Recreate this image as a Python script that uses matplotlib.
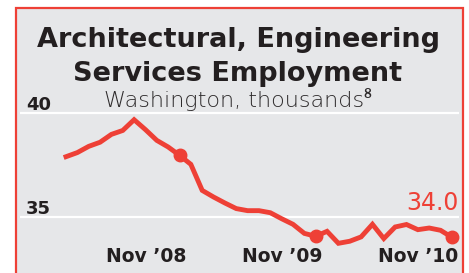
import matplotlib
matplotlib.use('Agg')
import matplotlib.pyplot as plt
from matplotlib.patches import Rectangle
import numpy as np

# monthly employment, Jan 2008 .. Nov 2010 (thousands)
months = list(range(35))
values = [37.90, 38.10, 38.40, 38.60, 38.98, 39.17, 39.69, 39.21, 38.69, 38.37,
          37.97, 37.53, 36.27, 35.95, 35.66, 35.39, 35.29, 35.29, 35.19, 34.90,
          34.63, 34.19, 34.05, 34.29, 33.71, 33.81, 34.02, 34.63, 33.94, 34.50,
          34.62, 34.37, 34.45, 34.34, 34.00]
tick_idx = [10, 22, 34]
tick_labels = ["Nov \u201908", "Nov \u201909", "Nov \u201910"]
y_ticks = [35, 40]
last_label = "34.0"

RED = '#ee4036'
BG = '#e6e7e9'
INK = '#231f20'
W, H = 469, 273

plt.rcParams['font.family'] = ['DejaVu Sans', 'Noto Sans']
fig = plt.figure(figsize=(W/100, H/100), dpi=100)
fig.patch.set_facecolor('white')

# panel background with red frame
fig.patches.append(Rectangle((16/W, -0.05), (463-16)/W, 1.05 - 8/H,
                             transform=fig.transFigure, facecolor=BG,
                             edgecolor=RED, linewidth=1.6, zorder=-5))

# x: pixel = 66 + 11.35*i ; y: 40 at px 113.3, 20.67 px per unit
ax = fig.add_axes([20/W, 0, 439/W, 173/H])
ax.set_zorder(2)
ax.set_facecolor('none')
ax.set_xlim((20-66)/11.35, (459-66)/11.35)
ax.set_ylim(40 - (273-113.3)/20.67, 40 + (113.3-100)/20.67)
for s in ax.spines.values():
    s.set_visible(False)
ax.set_xticks([])
ax.set_yticks([])

for yv in y_ticks:
    ax.axhline(yv, color='white', lw=1.6, zorder=1)
    ax.text(0.014, yv + 0.15, str(yv), transform=ax.get_yaxis_transform(),
            ha='left', va='baseline', fontsize=13, fontweight='bold', color=INK)

ax.plot(months, values, color=RED, lw=3.5, solid_joinstyle='miter', zorder=3)
ax.plot([months[i] for i in tick_idx], [values[i] for i in tick_idx], 'o',
        color=RED, ms=9, zorder=4)

for i, lab in zip(tick_idx, tick_labels):
    ax.text(months[i] + 0.6, 32.81, lab, ha='right', va='baseline',
            fontsize=13.5, fontweight='bold', color=INK)

ax.text(months[-1] + 0.55, 35.32, last_label, ha='right', va='baseline',
        fontsize=17, color=RED)

fig.text(238/W, 1 - 46.7/H, "Architectural, Engineering", ha='center',
         va='baseline', fontsize=19.5, fontweight='bold', color=INK)
fig.text(238/W, 1 - 81/H, "Services Employment", ha='center',
         va='baseline', fontsize=19.5, fontweight='bold', color=INK)
fig.text(238/W, 1 - 107/H, "Washington, thousands\u2078", ha='center',
         va='baseline', fontsize=16, fontweight='light', color='#2e2b2c')

fig.savefig('out.png', dpi=100)
